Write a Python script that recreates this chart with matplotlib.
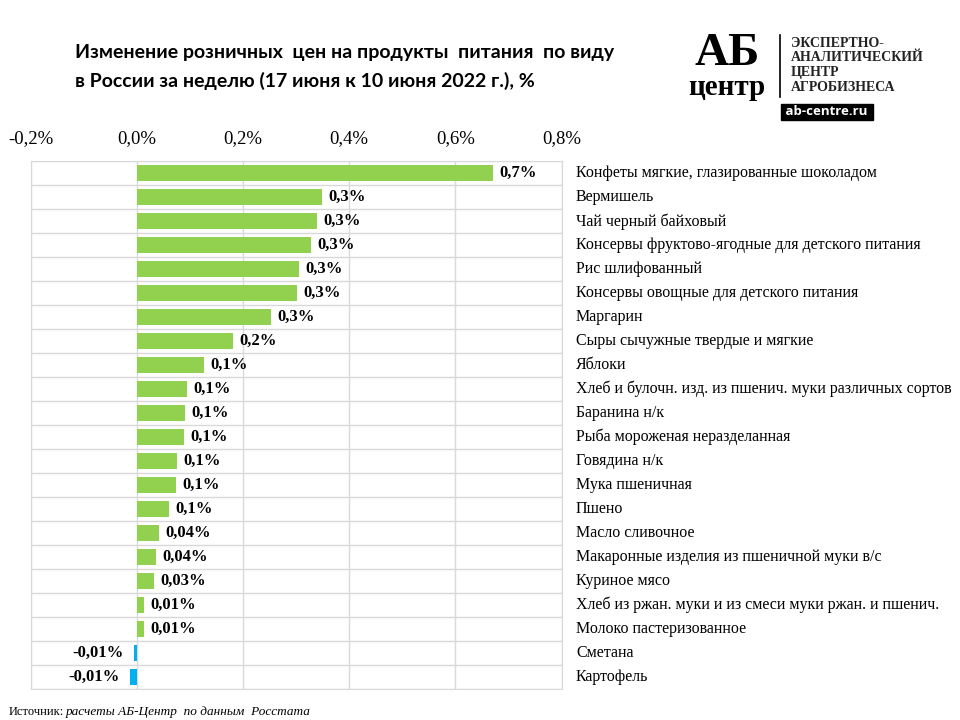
import matplotlib.pyplot as plt
import numpy as np

categories = [
    'Конфеты мягкие, глазированные шоколадом',
    'Вермишель',
    'Чай черный байховый',
    'Консервы фруктово-ягодные для детского питания',
    'Рис шлифованный',
    'Консервы овощные для детского питания',
    'Маргарин',
    'Сыры сычужные твердые и мягкие',
    'Яблоки',
    'Хлеб и булочн. изд. из пшенич. муки различных сортов',
    'Баранина н/к',
    'Рыба мороженая неразделанная',
    'Говядина н/к',
    'Мука пшеничная',
    'Пшено',
    'Масло сливочное',
    'Макаронные изделия из пшеничной муки в/с',
    'Куриное мясо',
    'Хлеб из ржан. муки и из смеси муки ржан. и пшенич.',
    'Молоко пастеризованное',
    'Сметана',
    'Картофель',
]
values = [0.671, 0.349, 0.340, 0.328, 0.306, 0.302, 0.253, 0.181, 0.126,
          0.094, 0.091, 0.089, 0.075, 0.074, 0.060, 0.042, 0.036, 0.032,
          0.013, 0.013, -0.005, -0.013]
value_labels = ['0,7%', '0,3%', '0,3%', '0,3%', '0,3%', '0,3%', '0,3%', '0,2%',
                '0,1%', '0,1%', '0,1%', '0,1%', '0,1%', '0,1%', '0,1%', '0,04%',
                '0,04%', '0,03%', '0,01%', '0,01%', '-0,01%', '-0,01%']
ticks = [-0.2, 0.0, 0.2, 0.4, 0.6, 0.8]
tick_labels = ['-0,2%', '0,0%', '0,2%', '0,4%', '0,6%', '0,8%']

serif = 'Liberation Serif'
grid_col = '#d9d9d9'

fig = plt.figure(figsize=(9.6, 7.2), dpi=100)
ax = fig.add_axes([0.032, 0.043, 0.553, 0.733])

y = np.arange(len(values))
colors = ['#92d050' if v >= 0 else '#00b0f0' for v in values]
ax.barh(y, values, height=0.66, color=colors, zorder=3)

ax.set_xlim(-0.2, 0.8)
ax.set_ylim(len(values) - 0.5, -0.5)
ax.set_xticks(ticks)
ax.set_xticklabels(tick_labels, fontfamily=serif, fontsize=13.5)
ax.xaxis.tick_top()
ax.tick_params(axis='x', length=0, pad=10)
ax.set_yticks([])
ax.set_yticks(np.arange(len(values) + 1) - 0.5, minor=True)
ax.tick_params(axis='y', which='minor', length=0)
ax.grid(True, which='major', axis='x', color=grid_col, lw=1, zorder=0)
ax.grid(True, which='minor', axis='y', color=grid_col, lw=1, zorder=0)
for s in ax.spines.values():
    s.set_color(grid_col)

for i, v in enumerate(values):
    if v >= 0:
        ax.text(v + 0.012, i, value_labels[i], va='center', ha='left',
                fontfamily=serif, fontweight='bold', fontsize=12)
    else:
        ax.text(v - 0.02, i, value_labels[i], va='center', ha='right',
                fontfamily=serif, fontweight='bold', fontsize=12)
    ax.text(1.027, i, categories[i], transform=ax.get_yaxis_transform(),
            va='center', ha='left', fontfamily=serif, fontsize=11.5)

fig.text(0.078, 0.927, 'Изменение розничных  цен на продукты  питания  по виду',
         fontfamily='Lato', fontweight='bold', fontsize=14, va='center')
fig.text(0.078, 0.888, 'в России за неделю (17 июня к 10 июня 2022 г.), %',
         fontfamily='Lato', fontweight='bold', fontsize=14, va='center')

# logo
fig.text(0.757, 0.925, 'АБ', fontfamily=serif, fontweight='bold', fontsize=34,
         ha='center', va='center')
fig.text(0.757, 0.878, 'центр', fontfamily=serif, fontweight='bold', fontsize=21,
         ha='center', va='center')
fig.add_artist(plt.Line2D([0.812, 0.812], [0.865, 0.952], color='black', lw=1.2))
logo_lines = ['ЭКСПЕРТНО-', 'АНАЛИТИЧЕСКИЙ', 'ЦЕНТР', 'АГРОБИЗНЕСА']
for k, t in enumerate(logo_lines):
    fig.text(0.824, 0.94 - k * 0.0205, t, fontfamily=serif, fontweight='bold',
             fontsize=10, va='center', color='#222222')
fig.text(0.861, 0.845, ' ab-centre.ru ', fontfamily='Open Sans', fontweight='bold',
         fontsize=9.5, color='white', va='center', ha='center',
         bbox=dict(boxstyle='square,pad=0.12', fc='black', ec='black'))

fig.text(0.009, 0.011, 'Источник:', fontfamily=serif, fontsize=9, va='center')
fig.text(0.069, 0.011, 'расчеты АБ-Центр  по данным  Росстата', fontfamily=serif,
         fontstyle='italic', fontsize=9.5, va='center')

fig.savefig('out.png', dpi=100)
